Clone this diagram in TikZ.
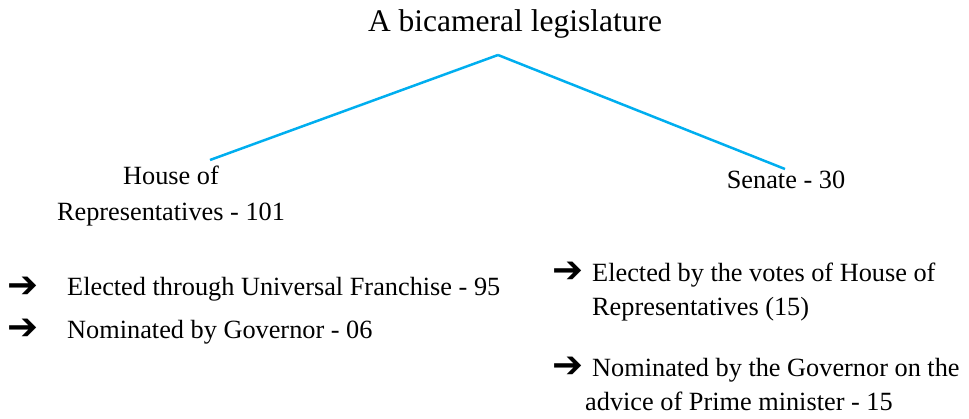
\documentclass[tikz,border=0pt]{standalone}
\usepackage{fontspec}
\setmainfont{Liberation Serif}
\newfontfamily\arrowfont{DejaVu Sans}[BoldFont=DejaVu Sans Bold]
\definecolor{branchblue}{HTML}{00AEEF}
\tikzset{
  heading/.style={font=\fontsize{31.5}{36}\selectfont, anchor=base, inner sep=0pt},
  chamber/.style={font=\fontsize{26.3}{36}\selectfont, anchor=base, inner sep=0pt, align=center},
  point/.style={font=\fontsize{26.3}{34}\selectfont, anchor=base west, inner sep=0pt, align=left},
  bullet/.style={font=\arrowfont\bfseries\fontsize{37}{40}\selectfont, anchor=center, inner sep=0pt},
  branch/.style={draw=branchblue, line width=2.5pt},
}
\begin{document}
\begin{tikzpicture}[x=1pt, y=-1pt]
  \useasboundingbox (0,0) rectangle (969,418);
  \path
    (515,31) node[heading] (title) {A bicameral legislature}
    (171,220) node[chamber] (house) {House of\\Representatives - 101}
    (786,188) node[chamber] (senate) {Senate - 30};
  \coordinate (apex) at (498,55);
  \coordinate (houseend) at (210,160);
  \coordinate (senateend) at (785,169);
  \begin{scope}[branch]
    \draw (apex) -- (houseend);
    \draw (apex) -- (senateend);
  \end{scope}
  % members of the house
  \path
    (23.5,287.5) node[bullet] (b1) {➔}
    (67,295) node[point] (h1) {Elected through Universal Franchise - 95}
    (23.5,329) node[bullet] (b2) {➔}
    (67,338) node[point] (h2) {Nominated by Governor - 06};
  % members of the senate
  \path
    (567.5,272) node[bullet] (b3) {➔}
    (592,315) node[point] (s1) {Elected by the votes of House of\\Representatives (15)}
    (567.5,367) node[bullet] (b4) {➔}
    (592,410) node[point] (s2) {Nominated by the Governor on the\\\hspace*{-7pt}advice of Prime minister - 15};
\end{tikzpicture}
\end{document}
